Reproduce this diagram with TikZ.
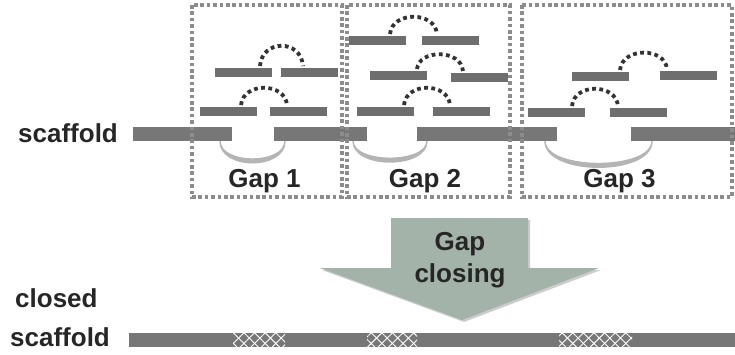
\documentclass[tikz,border=0pt]{standalone}
\usepackage{fontspec}
\setmainfont{Liberation Sans}
\usetikzlibrary{calc,patterns.meta,shadows}
\definecolor{txt}{HTML}{262626}
\definecolor{readgray}{HTML}{6E6E6E}
\definecolor{scafgray}{HTML}{777777}
\definecolor{linkgray}{HTML}{B4B4B4}
\definecolor{dotcol}{HTML}{333333}
\definecolor{boxgray}{HTML}{8C8C8C}
\definecolor{arrowfill}{HTML}{A3B3AA}
\tikzset{
  read/.style={fill=readgray, inner sep=0pt, outer sep=0pt, minimum height=9pt,
    minimum width=57pt, anchor=north west},
  scaf/.style={fill=scafgray, inner sep=0pt, outer sep=0pt, minimum height=14pt,
    anchor=north west},
  pair/.style={draw=dotcol, line width=3.8pt, dash pattern=on 3.8pt off 3.4pt},
  gaplink/.style={fill=linkgray, draw=linkgray, line width=1.4pt},
  window/.style={draw=boxgray, line width=3.6pt, dash pattern=on 3.6pt off 2.8pt},
  lbl/.style={font=\fontsize{26}{30}\selectfont\bfseries, text=txt, inner sep=0pt},
  hatch/.style={pattern={Lines[angle=#1,distance=7.5pt,line width=0.9pt]},
    pattern color=white},
}
\begin{document}
\begin{tikzpicture}[x=1pt,y=-1pt]
\useasboundingbox (0,0) rectangle (735,354);

% scaffold with three gaps
\node[lbl, anchor=base west] (scaflbl) at (18,142) {scaffold};
\node[scaf, minimum width=99pt]  (s1) at (133,127) {};
\node[scaf, minimum width=93pt]  (s2) at (274,127) {};
\node[scaf, minimum width=140pt] (s3) at (417,127) {};
\node[scaf, minimum width=104pt] (s4) at (631,127) {};

% mate-pair links spanning each gap
\path[gaplink] ($(s1.south east)+(-12,0)$) coordinate (l1a)
  .. controls +(0,29) and +(0,29) .. ($(s2.south west)+(11,0)$) coordinate (l1b)
  .. controls +(0,24) and +(0,24) .. (l1a) -- cycle;
\path[gaplink] ($(s2.south east)+(-14,0)$) coordinate (l2a)
  .. controls +(0,28) and +(0,28) .. ($(s3.south west)+(10,0)$) coordinate (l2b)
  .. controls +(0,23) and +(0,23) .. (l2a) -- cycle;
\path[gaplink] ($(s3.south east)+(-12,0)$) coordinate (l3a)
  .. controls +(0,35) and +(0,35) .. ($(s4.south west)+(21,0)$) coordinate (l3b)
  .. controls +(0,30) and +(0,30) .. (l3a) -- cycle;

% reads in gap 1
\node[read] (a1) at (215,68) {};
\node[read] (b1) at (281,68) {};
\node[read] (a2) at (200,107) {};
\node[read] (b2) at (270,107) {};
% reads in gap 2
\node[read] (c1) at (349,36) {};
\node[read] (d1) at (422,36) {};
\node[read] (c2) at (370,71) {};
\node[read] (d2) at (451,73) {};
\node[read] (c3) at (357,107) {};
\node[read] (d3) at (433,107) {};
% reads in gap 3
\node[read] (e1) at (572,72) {};
\node[read] (f1) at (660,71) {};
\node[read] (e2) at (528,108) {};
\node[read] (f2) at (610,108) {};

% read pairs
\draw[pair] ($(a1.north east)+(-12,-2)$) .. controls +(2,-27) and +(-2,-27) .. ($(b1.north west)+(22,-2)$);
\draw[pair] ($(a2.north east)+(-16,-2)$) .. controls +(2,-23) and +(-2,-23) .. ($(b2.north west)+(17,-2)$);
\draw[pair] ($(c1.north east)+(-16,-2)$) .. controls +(2,-23) and +(-2,-23) .. ($(d1.north west)+(15,-2)$);
\draw[pair] ($(c2.north east)+(-10,-2)$) .. controls +(2,-20) and +(-2,-22) .. ($(d2.north west)+(12,-2)$);
\draw[pair] ($(c3.north east)+(-10,-2)$) .. controls +(2,-23) and +(-2,-23) .. ($(d3.north west)+(17,-2)$);
\draw[pair] ($(e1.north east)+(-9,-2)$) .. controls +(2,-23) and +(-2,-22) .. ($(f1.north west)+(7,-2)$);
\draw[pair] ($(e2.north east)+(-13,-2)$) .. controls +(2,-23) and +(-2,-23) .. ($(f2.north west)+(8,-2)$);

% gap windows
\draw[window] (192,5) rectangle (342,197);
\draw[window] (347,5) rectangle (510,197);
\draw[window] (522,5) rectangle (732,197);
\node[lbl, anchor=base] (g1) at (264.5,187) {Gap 1};
\node[lbl, anchor=base] (g2) at (425,187) {Gap 2};
\node[lbl, anchor=base] (g3) at (619.5,187) {Gap 3};

% gap closing arrow
\path[fill=arrowfill,
      drop shadow={opacity=0.4, shadow xshift=2pt, shadow yshift=-2pt}]
  (391,218) -- (528,218) -- (528,268) -- (599,268) -- (462,320)
  -- (320,268) -- (391,268) -- cycle;
\node[lbl, anchor=base] (gc1) at (460,250) {Gap};
\node[lbl, anchor=base] (gc2) at (460,282) {closing};

% closed scaffold
\node[lbl, anchor=base west] (cl1) at (15,307) {closed};
\node[lbl, anchor=base west] (cl2) at (10,346) {scaffold};
\node[scaf, minimum width=606pt] (cs) at (129,333) {};
\foreach \xa/\xb in {233/285, 367/417, 559/632} {
  \fill[hatch=45]  (\xa,333) rectangle (\xb,347);
  \fill[hatch=-45] (\xa,333) rectangle (\xb,347);
}
\end{tikzpicture}
\end{document}
